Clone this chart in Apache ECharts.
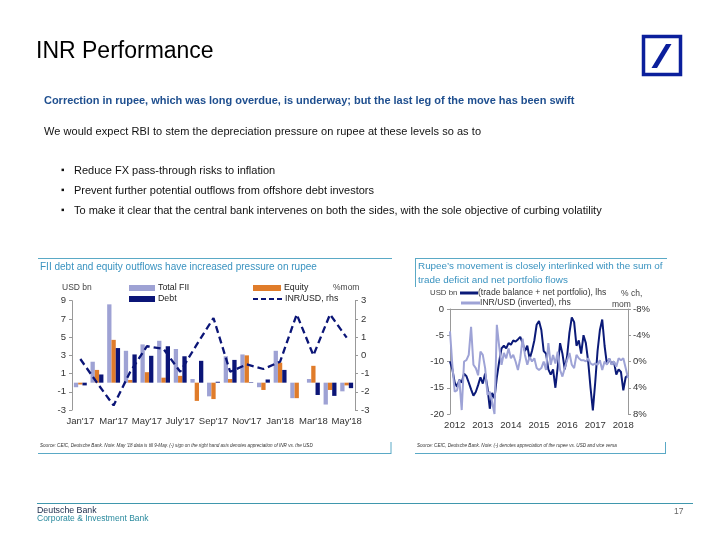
<!DOCTYPE html>
<html><head><meta charset="utf-8">
<script src="https://cdn.jsdelivr.net/npm/echarts@6/dist/echarts.min.js"></script>
<style>
body{margin:0;background:#fff;}
#wrap{position:relative;width:720px;height:540px;overflow:hidden;font-family:"Liberation Sans",Arial,sans-serif;}
#chart{position:absolute;left:0;top:0;width:720px;height:540px;}
.t{position:absolute;white-space:nowrap;line-height:1;}
</style></head><body>
<div id="wrap">
<div id="chart"></div>
<div class="t" style="left:36px;top:39px;font-size:23px;color:#000;">INR Performance</div>
<div class="t" style="left:44px;top:95px;font-size:11px;font-weight:bold;color:#1f4f8f;letter-spacing:-0.02px;">Correction in rupee, which was long overdue, is underway; but the last leg of the move has been swift</div>
<div class="t" style="left:44px;top:126px;font-size:11px;color:#111;letter-spacing:0.05px;">We would expect RBI to stem the depreciation pressure on rupee at these levels so as to</div>
<div class="t" style="left:61px;top:165px;font-size:10px;color:#111;">&#9642;</div>
<div class="t" style="left:74px;top:165px;font-size:11px;color:#111;">Reduce FX pass-through risks to inflation</div>
<div class="t" style="left:61px;top:185px;font-size:10px;color:#111;">&#9642;</div>
<div class="t" style="left:74px;top:185px;font-size:11px;color:#111;">Prevent further potential outflows from offshore debt investors</div>
<div class="t" style="left:61px;top:205px;font-size:10px;color:#111;">&#9642;</div>
<div class="t" style="left:74px;top:205px;font-size:11px;color:#111;">To make it clear that the central bank intervenes on both the sides, with the sole objective of curbing volatility</div>
<div class="t" style="left:37px;top:505.5px;font-size:8.8px;color:#1a2a4a;">Deutsche Bank</div>
<div class="t" style="left:37px;top:514px;font-size:8.5px;color:#2a8a9e;">Corporate &amp; Investment Bank</div>
<div class="t" style="left:674px;top:507px;font-size:8.5px;color:#666;">17</div>
</div>
<script>
// ---- Left chart data ----
const fiiMonths = ["Jan'17","Feb'17","Mar'17","Apr'17","May'17","Jun'17","July'17","Aug'17","Sep'17","Oct'17","Nov'17","Dec'17","Jan'18","Feb'18","Mar'18","Apr'18","May'18"];
const totalFII = [-0.5, 2.3, 8.6, 3.5, 4.2, 4.6, 3.7, 0.4, -1.5, 2.9, 3.1, -0.5, 3.5, -1.7, 0.4, -2.4, -0.95];
const equity   = [-0.2, 1.4, 4.7, 0.3, 1.15, 0.55, 0.75, -2.0, -1.8, 0.4, 3.0, -0.8, 2.2, -1.7, 1.85, -0.8, -0.3];
const debt     = [-0.3, 0.9, 3.8, 3.1, 2.95, 4.0, 2.9, 2.4, 0.1, 2.5, 0.05, 0.35, 1.4, 0.0, -1.35, -1.45, -0.6];
const inrUsdMom = [-0.2, -1.5, -2.75, -0.9, 0.5, 0.35, -0.9, 0.6, 2.05, -0.9, -0.5, -0.75, -0.35, 2.25, 0.0, 2.25, 0.97];

// ---- Right chart data (Nov 2011 .. Mar 2018, monthly) ----
const flowMonths = [];
(function(){ let y=2011,m=11; for(let i=0;i<77;i++){ flowMonths.push(y+'-'+String(m).padStart(2,'0')); m++; if(m>12){m=1;y++;} } })();
const tradePlusPortfolio = [-10.0,-11.5,-14.0,-14.8,-13.5,-14.0,-12.3,-12.8,-14.0,-15.3,-16.5,-15.8,-14.5,-13.0,-14.2,-12.3,-15.0,-19.0,-16.0,-17.0,-13.0,-10.0,-7.5,-7.0,-7.5,-6.5,-6.8,-6.0,-6.2,-5.8,-5.3,-6.5,-8.0,-7.0,-9.5,-8.0,-6.0,-3.0,-2.3,-4.0,-8.0,-8.5,-11.5,-12.5,-11.5,-15.0,-11.0,-6.5,-8.5,-11.5,-9.0,-4.5,-1.6,-2.5,-7.0,-6.0,-8.5,-5.0,-6.5,-10.0,-15.0,-19.3,-14.0,-8.0,-4.0,-2.0,-7.0,-10.5,-9.5,-10.5,-10.0,-12.5,-11.5,-12.0,-15.5,-13.0,-12.6];
const inrUsdInverted = [-4.6,0.5,4.6,4.4,2.8,7.4,0.0,-0.2,-1.0,-5.3,0.5,1.0,2.1,-1.5,-1.0,1.0,5.1,4.6,6.2,8.0,-5.6,-2.3,0.5,-1.3,-0.5,-2.0,-0.5,-1.0,0.0,1.3,-0.5,-3.5,-1.0,0.5,-0.7,0.0,-0.5,1.0,1.3,1.0,0.0,1.3,-2.8,0.5,-1.0,0.3,-1.5,1.3,2.3,1.0,-0.2,-1.3,0.5,1.0,-1.0,-0.5,-0.2,-0.2,0.0,-0.5,0.3,0.5,0.3,0.5,-0.2,1.3,0.0,0.5,-0.5,0.5,0.0,0.8,-0.5,-0.2,-0.5,1.0,2.5];

const C_TOTAL='#9ea2d4', C_EQ='#e07c2a', C_DEBT='#0b1577', C_LIGHT='#9ea3d6', C_TEAL='#3a93c0', C_FRAME='#5aa9c6';
const FONT='"Liberation Sans", Arial, sans-serif';
const axLab = {color:'#333', fontSize:9.5, fontFamily:FONT};
const axLine = {show:true, lineStyle:{color:'#999', width:1}};

function txt(x,y,text,opt){ opt=opt||{}; return {type:'text', x:x, y:y, silent:true, z:100, style:{text:text, fill:opt.fill||'#333', font:(opt.italic?'italic ':'')+(opt.size||8)+'px '+FONT, textAlign:opt.align||'left', align:opt.align||'left', textVerticalAlign:'middle', verticalAlign:'middle'}}; }
function ln(x1,y1,x2,y2,stroke,w,dash){ return {type:'line', silent:true, z:100, shape:{x1,y1,x2,y2}, style:{stroke, lineWidth:w||1, lineDash:dash||null}}; }
function rc(x,y,w,h,fill){ return {type:'rect', silent:true, z:100, shape:{x,y,width:w,height:h}, style:{fill}}; }

const chart = echarts.init(document.getElementById('chart'), null, {renderer:'canvas', width:720, height:540});
chart.setOption({
  animation:false,
  grid:[
    {left:72, top:300.7, width:283, height:109.3},
    {left:450, top:309, width:178, height:105}
  ],
  xAxis:[
    {gridIndex:0, type:'category', data:fiiMonths, position:'bottom', axisLine:{show:false, onZero:false}, axisTick:{show:false},
     axisLabel:Object.assign({interval:1, margin:6}, axLab)},
    {gridIndex:1, type:'category', data:flowMonths, boundaryGap:false, position:'top', axisLine:axLine, axisTick:{show:false}, axisLabel:{show:false}},
    {gridIndex:1, type:'category', data:flowMonths, boundaryGap:false, position:'bottom', axisLine:{show:false, onZero:false}, axisTick:{show:false},
     axisLabel:Object.assign({interval:(i,v)=>v.endsWith('-01'), formatter:v=>v.slice(0,4), margin:6}, axLab)}
  ],
  yAxis:[
    {gridIndex:0, type:'value', min:-3, max:9, interval:2, position:'left', axisLine:axLine, axisTick:{show:true, length:3, lineStyle:{color:'#999'}}, splitLine:{show:false},
     axisLabel:Object.assign({margin:6}, axLab)},
    {gridIndex:0, type:'value', min:-3, max:3, interval:1, position:'right', axisLine:axLine, axisTick:{show:true, length:3, lineStyle:{color:'#999'}}, splitLine:{show:false},
     axisLabel:Object.assign({margin:6}, axLab)},
    {gridIndex:1, type:'value', min:-20, max:0, interval:5, position:'left', axisLine:axLine, axisTick:{show:true, length:3, lineStyle:{color:'#999'}}, splitLine:{show:false},
     axisLabel:Object.assign({margin:6}, axLab)},
    {gridIndex:1, type:'value', min:-8, max:8, interval:4, inverse:true, position:'right', axisLine:axLine, axisTick:{show:true, length:3, lineStyle:{color:'#999'}}, splitLine:{show:false},
     axisLabel:Object.assign({margin:5, formatter:v=>v+'%'}, axLab)}
  ],
  series:[
    {name:'Total FII', type:'bar', xAxisIndex:0, yAxisIndex:0, data:totalFII, barWidth:4.3, barGap:'0%', itemStyle:{color:C_TOTAL}},
    {name:'Equity', type:'bar', xAxisIndex:0, yAxisIndex:0, data:equity, barWidth:4.3, barGap:'0%', itemStyle:{color:C_EQ}},
    {name:'Debt', type:'bar', xAxisIndex:0, yAxisIndex:0, data:debt, barWidth:4.3, barGap:'0%', itemStyle:{color:C_DEBT}},
    {name:'INR/USD, rhs', type:'line', xAxisIndex:0, yAxisIndex:1, data:inrUsdMom, symbol:'none', z:5,
     lineStyle:{color:C_DEBT, width:2.3, type:[7,4]}},
    {name:'(trade balance + net portfolio), lhs', type:'line', xAxisIndex:1, yAxisIndex:2, data:tradePlusPortfolio, symbol:'none',
     lineStyle:{color:'#0b1a78', width:2}},
    {name:'INR/USD (inverted), rhs', type:'line', xAxisIndex:1, yAxisIndex:3, data:inrUsdInverted, symbol:'none',
     lineStyle:{color:C_LIGHT, width:2}}
  ],
  graphic:[
    // logo
    {type:'rect', silent:true, shape:{x:643.5, y:36.5, width:37, height:38}, style:{fill:'#fff', stroke:'#0b1f9c', lineWidth:3.5}},
    {type:'polygon', silent:true, shape:{points:[[651.5,68],[657,68],[671.5,44],[666,44]]}, style:{fill:'#0b1f9c'}},
    // footer line
    ln(37,503.5,693,503.5,'#3f97ad',1.2),
    // left panel frame
    ln(38,258.5,392,258.5,C_FRAME,1),
    ln(38,453.5,391,453.5,C_FRAME,1),
    ln(391,442,391,454,C_FRAME,1),
    txt(40,267,'FII debt and equity outflows have increased pressure on rupee',{fill:C_TEAL, size:10}),
    // left legend
    txt(62,288,'USD bn',{size:8.5, fill:'#444'}),
    rc(129,285,26,6,C_TOTAL), txt(158,288,'Total FII',{size:8.8, fill:'#222'}),
    rc(129,296,26,6,C_DEBT), txt(158,299,'Debt',{size:8.8, fill:'#222'}),
    rc(253,285,28,6,C_EQ), txt(284,288,'Equity',{size:8.8, fill:'#222'}),
    ln(253,299,282,299,C_DEBT,2,[5,3]), txt(285,299,'INR/USD, rhs',{size:8.8, fill:'#222'}),
    txt(333,288,'%mom',{size:8.5, fill:'#444'}),
    txt(40,446,"Source: CEIC, Deutsche Bank. Note: May '18 data is till 9-May. (-) sign on the right hand axis denotes appreciation of INR vs. the USD",{size:4.6, italic:true, fill:'#333'}),
    // right panel frame
    ln(415,258.5,667,258.5,C_FRAME,1),
    ln(415.5,258,415.5,287,C_FRAME,1),
    ln(415,453.5,666,453.5,C_FRAME,1),
    ln(665.5,442,665.5,454,C_FRAME,1),
    txt(418,266,"Rupee\u2019s movement is closely interlinked with the sum of",{fill:C_TEAL, size:9.9}),
    txt(418,280,'trade deficit and net portfolio flows',{fill:C_TEAL, size:9.9}),
    txt(430,293,'USD bn',{size:7.8, fill:'#444'}),
    ln(460,293,478,293,'#0b1a78',3), txt(478,292.5,'(trade balance + net portfolio), lhs',{size:8.6, fill:'#333'}),
    ln(461,303,480,303,C_LIGHT,3), txt(480,303,'INR/USD (inverted), rhs',{size:8.6, fill:'#333'}),
    txt(621,294,'% ch,',{size:8.5, fill:'#444'}),
    txt(612,305,'mom',{size:8.5, fill:'#444'}),
    txt(417,446,'Source: CEIC, Deutsche Bank. Note: (-) denotes appreciation of the rupee vs. USD and vice versa',{size:4.6, italic:true, fill:'#333'})
  ]
});
</script>
</body></html>
